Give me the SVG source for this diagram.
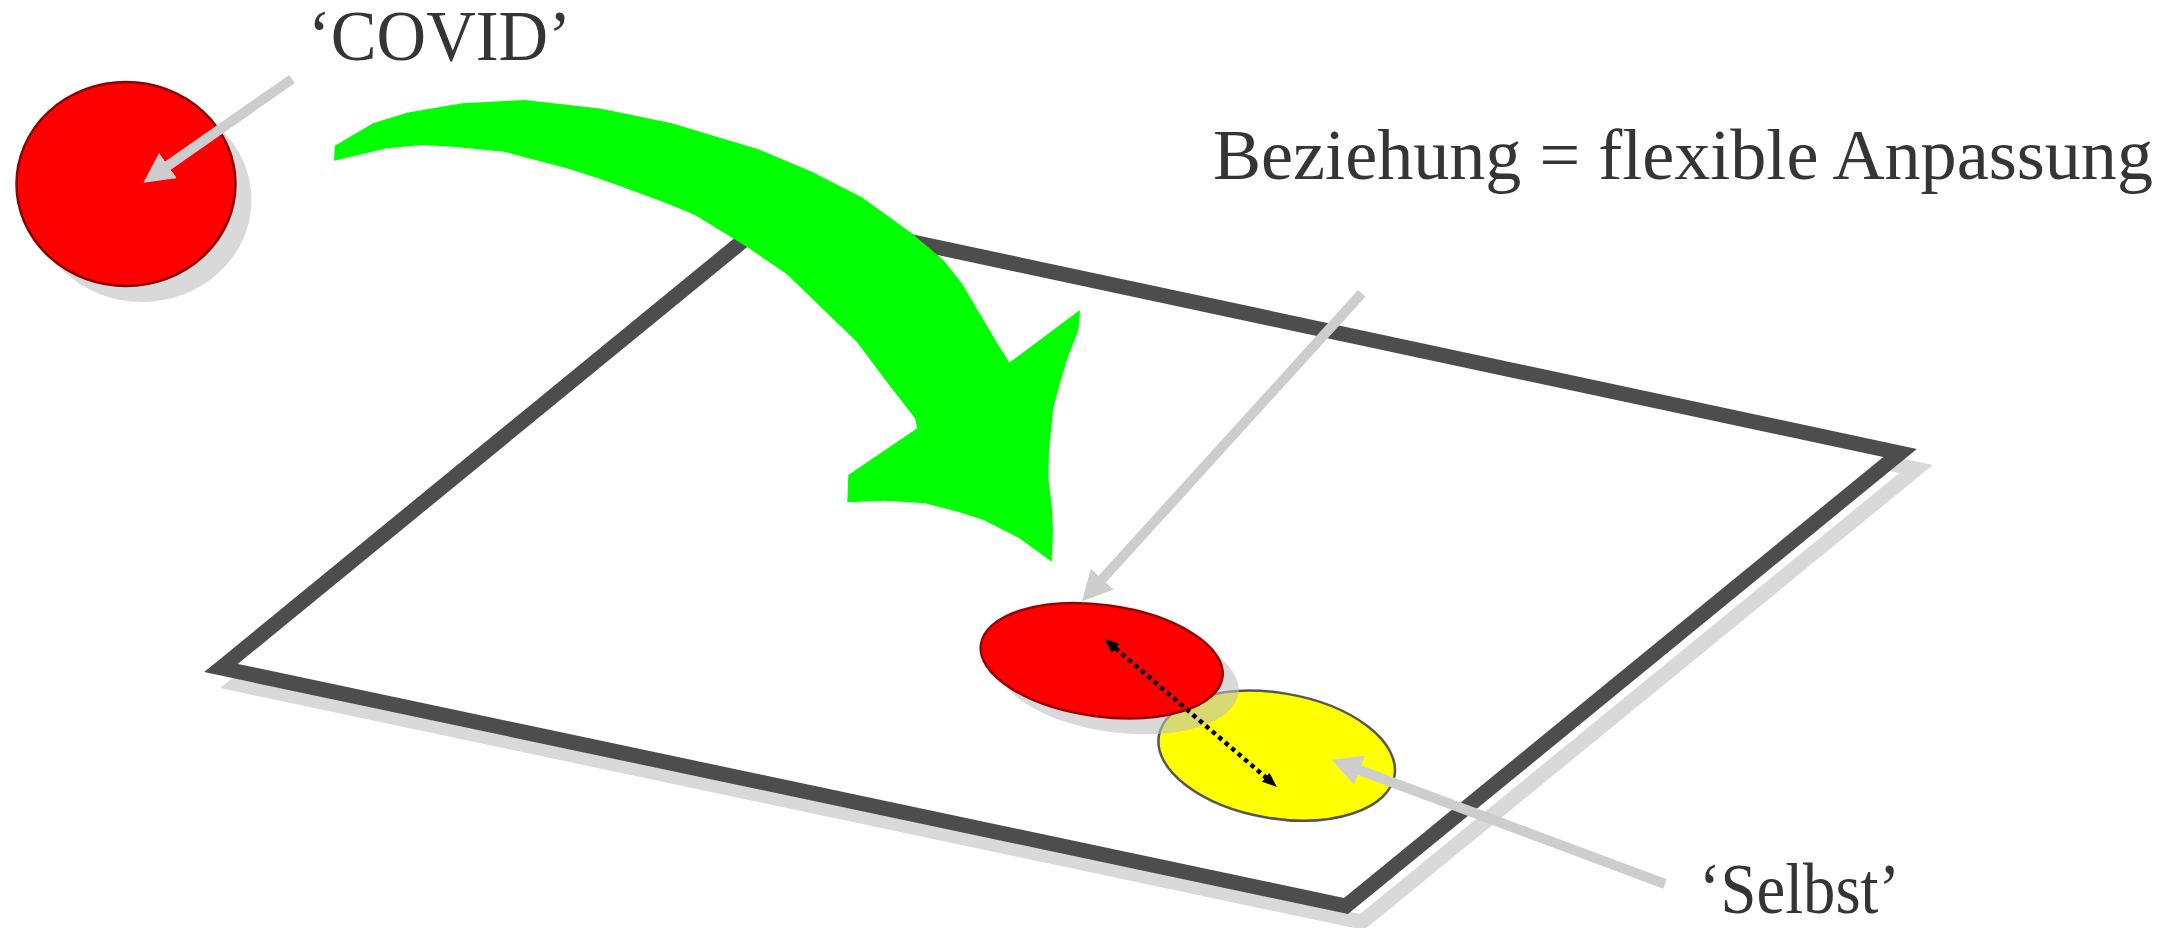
<svg xmlns="http://www.w3.org/2000/svg" width="2184" height="928" viewBox="0 0 2184 928">
<style>
.lbl{font-family:"Liberation Serif","Times New Roman",serif;font-size:72px;fill:#353535;}
.shadow{fill:#c0c0c0;opacity:0.6;}
.ptr{stroke:#cdcdcd;stroke-width:10;fill:none;marker-end:url(#grayHead);}
</style>
<defs>
<marker id="grayHead" viewBox="0 0 30 31" markerUnits="userSpaceOnUse" markerWidth="30" markerHeight="31" refX="0.5" refY="15.5" orient="auto">
<path d="M0,0 L30,15.5 L0,31 z" fill="#cdcdcd"/>
</marker>
<marker id="blackHead" viewBox="0 0 15 12" markerUnits="userSpaceOnUse" markerWidth="15" markerHeight="12" refX="0.5" refY="6" orient="auto-start-reverse">
<path d="M0,0 L15,6 L0,12 z" fill="#000"/>
</marker>
</defs>
<rect width="2184" height="928" fill="#fff"/>

<g id="plane">
<polygon points="237,684 793,229 1916,469 1362,922" fill="none" stroke="#d9d9d9" stroke-width="15" stroke-linejoin="miter"/>
<polygon points="221,668 777,213 1900,453 1346,906" fill="#fff" stroke="#4d4d4d" stroke-width="15" stroke-linejoin="miter"/>
</g>

<g id="node-selbst">
<ellipse cx="1276.7" cy="755.7" rx="119.5" ry="62.7" transform="rotate(9.6 1276.7 755.7)" fill="#ffff00" stroke="#555555" stroke-width="2.5"/>
</g>

<g id="node-beziehung">
<ellipse class="shadow" cx="1117.7" cy="676.8" rx="121.9" ry="55.7" transform="rotate(7.65 1117.7 676.8)"/>
<ellipse cx="1101.7" cy="660.8" rx="121.9" ry="55.7" transform="rotate(7.65 1101.7 660.8)" fill="#ff0000" stroke="#9a0000" stroke-width="2.5"/>
</g>

<g id="node-covid">
<ellipse class="shadow" cx="142" cy="200" rx="109.5" ry="102"/>
<ellipse cx="126" cy="184" rx="109.5" ry="102" fill="#ff0000" stroke="#8b0000" stroke-width="2.5"/>
</g>

<g id="green-arrow">
<path fill="#00ff00" d="M334.8,145.7 L373,123.3 L408,112.5 L462.5,103.3 L524.5,100 L600,108.5 L671.7,123.3 L758.3,149.3 L811.7,171.7 L861.7,197.3 L911.7,233.3 L943.3,260 L961.7,283.3 L998.3,345 L1009.5,362.5 L1080,310 L1078.5,330 L1067.5,358 L1060,383.3 L1053.3,408 L1049,450 L1048.3,478.3 L1051.7,505 L1053,530 L1051.7,561.7 L1019.4,538.3 L983.7,520 L958,511.7 L925,503.3 L885,500.7 L847.3,502.3 L848.3,475 L917.3,428.3 L915,418.3 L886.7,381.7 L856.7,341.7 L786.7,274 L746.7,246.7 L695,215 L666.7,203.3 L620,186 L598,178.3 L567,168.3 L504,151.7 L453,146.7 L422,145 L386.7,148.3 L334,160.7 Z"/>
</g>

<g id="connectors">
<line class="ptr" x1="292" y1="79" x2="167.6" y2="165.8"/>
<line class="ptr" x1="1361.7" y1="293.3" x2="1101.9" y2="579.5"/>
<line class="ptr" x1="1665" y1="884" x2="1359.1" y2="770"/>
<line x1="1115.4" y1="648.1" x2="1265.9" y2="777.5" stroke="#000" stroke-width="4.5" stroke-dasharray="4.5 4" marker-start="url(#blackHead)" marker-end="url(#blackHead)"/>
</g>

<g id="label-covid">
<text class="lbl" x="308" y="60" textLength="263" lengthAdjust="spacingAndGlyphs">‘COVID’</text>
</g>
<g id="label-beziehung">
<text class="lbl" x="1213" y="179" textLength="940" lengthAdjust="spacingAndGlyphs">Beziehung = flexible Anpassung</text>
</g>
<g id="label-selbst">
<text class="lbl" x="1699" y="913" textLength="201" lengthAdjust="spacingAndGlyphs">‘Selbst’</text>
</g>
</svg>
